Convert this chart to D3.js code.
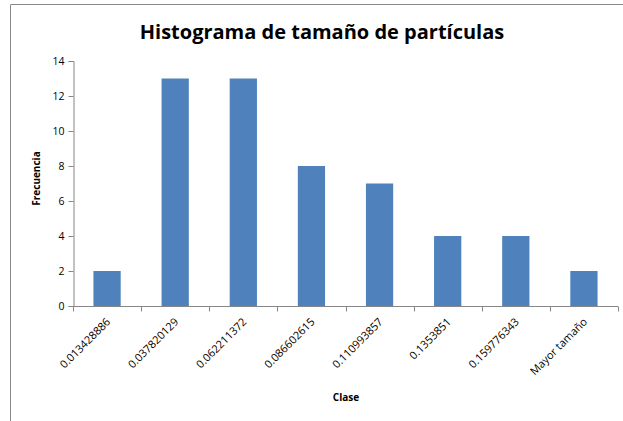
<!DOCTYPE html>
<html>
<head>
<meta charset="utf-8">
<script src="https://cdn.jsdelivr.net/npm/d3@7/dist/d3.min.js"></script>
<style>
  html, body { margin: 0; padding: 0; background: #fff; }
  svg { display: block; }
</style>
</head>
<body>
<svg id="chart" width="623" height="421"></svg>
<script>
// Histogram classes (upper bin edges) and their frequencies
const classes = ["0.013428886", "0.037820129", "0.062211372", "0.086602615",
                 "0.110993857", "0.1353851", "0.159776343", "Mayor tamaño"];
const frequencies = [2, 13, 13, 8, 7, 4, 4, 2];
const yTicks = [0, 2, 4, 6, 8, 10, 12, 14];

const svg = d3.select("#chart");
const W = 623, H = 421;
const margin = { left: 73, right: 5, top: 61, bottom: 115 };
const plotW = W - margin.left - margin.right;
const plotH = H - margin.top - margin.bottom;

// Frame lines along top and left edges
svg.append("line").attr("x1", 10.5).attr("x2", W).attr("y1", 4.5).attr("y2", 4.5)
  .attr("stroke", "#8a8a8a").attr("stroke-width", 1);
svg.append("line").attr("x1", 10.5).attr("x2", 10.5).attr("y1", 4.5).attr("y2", H)
  .attr("stroke", "#8a8a8a").attr("stroke-width", 1);

const xStep = d3.scaleBand().domain(classes).range([0, plotW]);
const y = d3.scaleLinear().domain([0, 14]).range([plotH, 0]);

const g = svg.append("g").attr("transform", `translate(${margin.left},${margin.top})`);

// Bars (gap width 150% of bar width)
const barW = xStep.bandwidth() / 2.5;
g.selectAll("rect.bar").data(classes).join("rect")
  .attr("class", "bar")
  .attr("x", d => xStep(d) + (xStep.bandwidth() - barW) / 2)
  .attr("width", barW)
  .attr("y", (d, i) => y(frequencies[i]))
  .attr("height", (d, i) => plotH - y(frequencies[i]))
  .attr("fill", "#4f81bd");

// Y axis
const yAxis = g.append("g").attr("transform", "translate(0.5,0)")
  .call(d3.axisLeft(y).tickValues(yTicks).tickSize(5).tickPadding(4));
yAxis.select(".domain").attr("stroke", "#868686");
yAxis.selectAll(".tick line").attr("stroke", "#868686");
yAxis.selectAll(".tick text").attr("font-family", "'Open Sans', sans-serif")
  .attr("font-size", 10.5).attr("fill", "#000");
yAxis.selectAll(".tick").attr("transform", d => `translate(0,${Math.round(y(d)) + 0.5})`);

// X axis: tick marks at band boundaries
const xAxisG = g.append("g").attr("transform", `translate(0,${plotH + 0.5})`);
xAxisG.append("line").attr("x1", 0).attr("x2", plotW).attr("y1", 0).attr("y2", 0)
  .attr("stroke", "#868686");
const boundaries = classes.map(d => xStep(d)).concat([plotW]);
xAxisG.selectAll("line.tk").data(boundaries).join("line")
  .attr("class", "tk")
  .attr("x1", d => Math.round(d) + 0.5).attr("x2", d => Math.round(d) + 0.5)
  .attr("y1", 0).attr("y2", 5)
  .attr("stroke", "#868686");

// Rotated class labels
xAxisG.selectAll("text.lbl").data(classes).join("text")
  .attr("class", "lbl")
  .attr("transform", d => `translate(${xStep(d) + xStep.bandwidth() / 2 + 4},${16}) rotate(-45)`)
  .attr("text-anchor", "end")
  .attr("font-family", "'Open Sans', sans-serif")
  .attr("font-size", 11)
  .attr("fill", "#000")
  .text(d => d);

// Title
svg.append("text")
  .attr("x", 322).attr("y", 39)
  .attr("text-anchor", "middle")
  .attr("font-family", "'Open Sans', sans-serif")
  .attr("font-weight", "bold")
  .attr("font-size", 20)
  .attr("fill", "#000")
  .text("Histograma de tamaño de partículas");

// Axis titles
svg.append("text")
  .attr("transform", `translate(40,${margin.top + plotH / 2 - 5}) rotate(-90)`)
  .attr("text-anchor", "middle")
  .attr("font-family", "'Open Sans', sans-serif")
  .attr("font-weight", "bold")
  .attr("font-size", 10)
  .attr("fill", "#000")
  .text("Frecuencia");

svg.append("text")
  .attr("x", 346).attr("y", 401)
  .attr("text-anchor", "middle")
  .attr("font-family", "'Open Sans', sans-serif")
  .attr("font-weight", "bold")
  .attr("font-size", 10)
  .attr("fill", "#000")
  .text("Clase");
</script>
</body>
</html>
